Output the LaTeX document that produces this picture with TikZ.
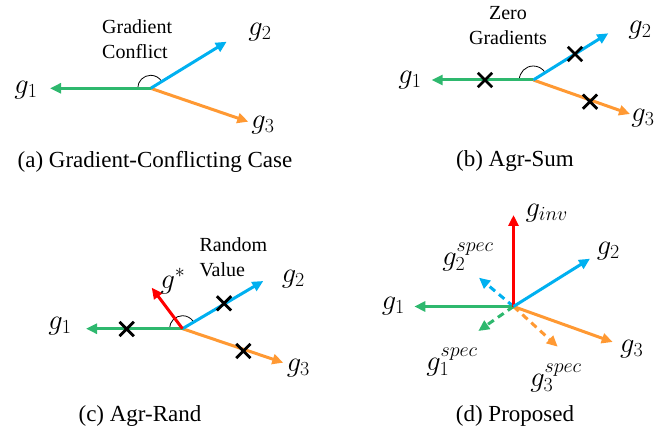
\RequirePackage{fix-cm}
\documentclass[tikz,border=0pt]{standalone}
\usepackage{fontspec}
\setmainfont{Liberation Serif}
\usetikzlibrary{arrows.meta,shapes.misc}
\definecolor{cgreen}{RGB}{46,184,110}
\definecolor{cblue}{RGB}{0,176,240}
\definecolor{corange}{RGB}{255,153,51}
\definecolor{cred}{RGB}{255,0,0}
\tikzset{
  vec/.style={line width=3pt,-{Triangle[length=11pt,width=10pt]}},
  dvec/.style={vec,dash pattern=on 7pt off 5pt},
  xmark/.style={cross out,draw,line width=2.8pt,minimum size=11.5pt,inner sep=0pt},
  lbl/.style={font=\fontsize{28.5}{31}\selectfont,inner sep=0pt},
  note/.style={font=\fontsize{20}{25}\selectfont,inner sep=0pt},
  captext/.style={font=\fontsize{23}{27}\selectfont,inner sep=0pt},
  angarc/.style={line width=0.8pt}
}
\begin{document}
\begin{tikzpicture}[x=1pt,y=-1pt]
\useasboundingbox (0,0) rectangle (670,433);
% ---------- (a) ----------
\coordinate (oA) at (150.7,88.3);
\coordinate (a1) at (50,88.3);
\coordinate (a2) at (226.7,41.7);
\coordinate (a3) at (248.3,121.7);
\draw[angarc] (oA) ++(-13,0) arc[start angle=180,end angle=328,radius=13];
\draw[vec,corange] (oA) -- (a3);
\draw[vec,cblue] (oA) -- (a2);
\draw[vec,cgreen] (oA) -- (a1);
\node[lbl] (la1) at (26,90) {$g_1$};
\node[lbl] (la2) at (260,32) {$g_2$};
\node[lbl] (la3) at (263,125) {$g_3$};
\node[note,align=left,anchor=west] (na) at (102,39.5) {Gradient\\Conflict};
\node[captext] (ca) at (155,161.7) {(a) Gradient-Conflicting Case};
% ---------- (b) ----------
\coordinate (oB) at (533.3,80);
\coordinate (b1) at (431.7,80);
\coordinate (b2) at (608.3,33.3);
\coordinate (b3) at (630,114);
\draw[angarc] (oB) ++(-14,0) arc[start angle=180,end angle=328,radius=14];
\draw[vec,corange] (oB) -- (b3);
\draw[vec,cblue] (oB) -- (b2);
\draw[vec,cgreen] (oB) -- (b1);
\node[xmark] (xb1) at (485,80) {};
\node[xmark] (xb2) at (575,54) {};
\node[xmark] (xb3) at (590,101.7) {};
\node[lbl] (lb1) at (410,80) {$g_1$};
\node[lbl] (lb2) at (640,30) {$g_2$};
\node[lbl] (lb3) at (643,118) {$g_3$};
\node[note,align=center] (nb) at (508,26) {Zero\\Gradients};
\node[captext] (cb) at (515,161) {(b) Agr-Sum};
% ---------- (c) ----------
\coordinate (oC) at (182.5,328.7);
\coordinate (c1) at (86,328.7);
\coordinate (c2) at (263.3,281);
\coordinate (c3) at (283.3,362.7);
\coordinate (cs) at (151.7,287.7);
\draw[angarc] (oC) ++(-13,0) arc[start angle=180,end angle=328,radius=13];
\draw[vec,corange] (oC) -- (c3);
\draw[vec,cblue] (oC) -- (c2);
\draw[vec,cgreen] (oC) -- (c1);
\draw[vec,cred] (oC) -- (cs);
\node[xmark] (xc1) at (126.7,329) {};
\node[xmark] (xc2) at (224,303.3) {};
\node[xmark] (xc3) at (243.3,351) {};
\node[lbl] (lc1) at (60,326) {$g_1$};
\node[lbl] (lc2) at (293.3,279) {$g_2$};
\node[lbl] (lc3) at (298.3,367.7) {$g_3$};
\node[lbl] (lcs) at (173,281) {$g^*$};
\node[note,align=left,anchor=west] (nc) at (199.3,257.7) {Random\\Value};
\node[captext] (cc) at (140,416) {(c) Agr-Rand};
% ---------- (d) ----------
\coordinate (oD) at (513.5,306.5);
\coordinate (d1) at (414.3,306.5);
\coordinate (d2) at (590,258.7);
\coordinate (d3) at (612.7,342);
\coordinate (dinv) at (513.5,215);
\coordinate (ds1) at (478.3,331);
\coordinate (ds2) at (479,277.7);
\coordinate (ds3) at (557.7,346.7);
\draw[dvec,corange] (oD) -- (ds3);
\draw[dvec,cgreen] (oD) -- (ds1);
\draw[dvec,cblue] (oD) -- (ds2);
\draw[vec,corange] (oD) -- (d3);
\draw[vec,cgreen] (oD) -- (d1);
\draw[vec,cred] (oD) -- (dinv);
\draw[vec,cblue] (oD) -- (d2);
\node[lbl] (ld1) at (393.3,306) {$g_1$};
\node[lbl] (ld2) at (608.3,251) {$g_2$};
\node[lbl] (ld3) at (631.7,349.3) {$g_3$};
\node[lbl] (ldinv) at (546.7,213.3) {$g_{inv}$};
\node[lbl] (lds2) at (468,257) {$g_2^{spec}$};
\node[lbl] (lds1) at (452,362) {$g_1^{spec}$};
\node[lbl] (lds3) at (556,378) {$g_3^{spec}$};
\node[captext] (cd) at (515,416) {(d) Proposed};
\end{tikzpicture}
\end{document}
